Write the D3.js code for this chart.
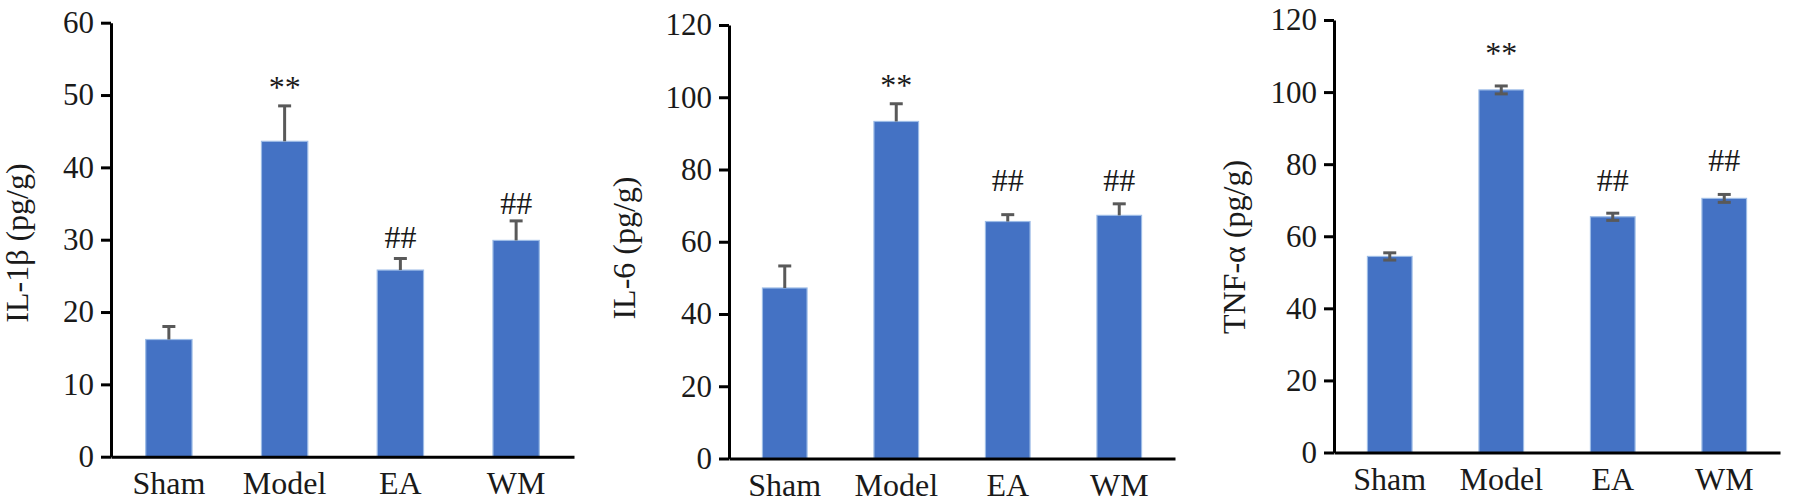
<!DOCTYPE html>
<html>
<head>
<meta charset="utf-8">
<script src="https://cdn.jsdelivr.net/npm/d3@7"></script>
<style>
  body { margin: 0; background: #fff; }
  svg { display: block; }
  text { font-family: "Liberation Serif", "Times New Roman", serif; fill: #1a1a1a; }
</style>
</head>
<body>
<svg id="chart" width="1793" height="502"></svg>
<script>
// data
var categories = ["Sham", "Model", "EA", "WM"];
var il1b = [16.2, 43.6, 25.8, 29.9];
var il1bErr = [1.8, 4.9, 1.6, 2.7];
var il6 = [47.2, 93.3, 65.6, 67.3];
var il6Err = [6.1, 4.9, 1.9, 3.2];
var tnf = [54.4, 100.6, 65.4, 70.5];
var tnfErr = [1.0, 1.1, 1.0, 1.1];
var marks = ["", "**", "##", "##"];
var il1bTicks = [0, 10, 20, 30, 40, 50, 60];
var il6Ticks = [0, 20, 40, 60, 80, 100, 120];
var tnfTicks = [0, 20, 40, 60, 80, 100, 120];

var svg = d3.select("#chart");

/* one panel of the figure */
function panel(opts) {
  var g = svg.append("g");

  var x = d3.scaleBand()
    .domain(categories)
    .range([opts.left, opts.right])
    .paddingInner(0.6)
    .paddingOuter(0.3);

  var y = d3.scaleLinear()
    .domain([0, d3.max(opts.ticks)])
    .range([opts.bottom, opts.top]);

  var rows = categories.map(function(c, i) {
    return { cat: c, v: opts.values[i], e: opts.errs[i], m: marks[i], gap: opts.markGap[i] };
  });

  var cx = d => x(d.cat) + x.bandwidth() / 2;

  // bars
  g.selectAll("rect.bar")
    .data(rows)
    .enter()
    .append("rect")
    .attr("class", "bar")
    .attr("x", d => x(d.cat))
    .attr("width", x.bandwidth())
    .attr("y", d => y(d.v))
    .attr("height", d => y(0) - y(d.v))
    .attr("fill", "#4472C4")
    .attr("stroke", "#9CBBE6")
    .attr("stroke-width", 1.2);

  // error bars
  var eb = g.selectAll("g.err")
    .data(rows)
    .enter()
    .append("g")
    .attr("class", "err")
    .attr("stroke", "#595959")
    .attr("stroke-width", 3);

  eb.append("line")
    .attr("x1", cx)
    .attr("x2", cx)
    .attr("y1", d => opts.twoSided ? y(d.v - d.e) : y(d.v))
    .attr("y2", d => y(d.v + d.e));

  eb.append("line")
    .attr("x1", d => cx(d) - 6.5)
    .attr("x2", d => cx(d) + 6.5)
    .attr("y1", d => y(d.v + d.e))
    .attr("y2", d => y(d.v + d.e));

  if (opts.twoSided) {
    eb.append("line")
      .attr("x1", d => cx(d) - 6.5)
      .attr("x2", d => cx(d) + 6.5)
      .attr("y1", d => y(d.v - d.e))
      .attr("y2", d => y(d.v - d.e));
  }

  // significance marks
  g.selectAll("text.mark")
    .data(rows.filter(d => d.m))
    .enter()
    .append("text")
    .attr("class", "mark")
    .attr("x", cx)
    .attr("y", d => y(d.v + d.e) - d.gap)
    .attr("text-anchor", "middle")
    .style("font-size", "32px")
    .text(d => d.m);

  // y axis
  var yAxis = d3.axisLeft(y)
    .tickValues(opts.ticks)
    .tickSize(10)
    .tickSizeOuter(0)
    .tickPadding(7);

  var ya = g.append("g")
    .attr("transform", "translate(" + opts.left + ",0)")
    .call(yAxis);
  ya.selectAll("path, line").attr("stroke", "#000").attr("stroke-width", 3);
  ya.selectAll("text").style("font-size", "31px").attr("fill", "#1a1a1a");

  // x axis
  var xAxis = d3.axisBottom(x)
    .tickSize(0)
    .tickSizeOuter(0)
    .tickPadding(15);

  var xa = g.append("g")
    .attr("transform", "translate(0," + opts.bottom + ")")
    .call(xAxis);
  xa.select("path").attr("stroke", "#000").attr("stroke-width", 3);
  xa.selectAll("text").style("font-size", "32px").attr("fill", "#1a1a1a");

  // axis title
  g.append("text")
    .attr("transform", "translate(" + opts.titleX + "," + opts.titleY + ") rotate(-90)")
    .attr("text-anchor", "middle")
    .style("font-size", "32px")
    .text(opts.title);
}

panel({
  values: il1b, errs: il1bErr, ticks: il1bTicks, title: "IL-1\u03b2 (pg/g)",
  left: 111, right: 574, top: 22.7, bottom: 456.7, titleX: 28, titleY: 243,
  twoSided: false, markGap: [0, 8, 11, 7]
});

panel({
  values: il6, errs: il6Err, ticks: il6Ticks, title: "IL-6 (pg/g)",
  left: 729, right: 1175, top: 25, bottom: 458.5, titleX: 635, titleY: 248,
  twoSided: false, markGap: [0, 8, 24, 13]
});

panel({
  values: tnf, errs: tnfErr, ticks: tnfTicks, title: "TNF-\u03b1 (pg/g)",
  left: 1334, right: 1780, top: 20, bottom: 452.5, titleX: 1245, titleY: 247,
  twoSided: true, markGap: [0, 22, 22, 23]
});
</script>
</body>
</html>
